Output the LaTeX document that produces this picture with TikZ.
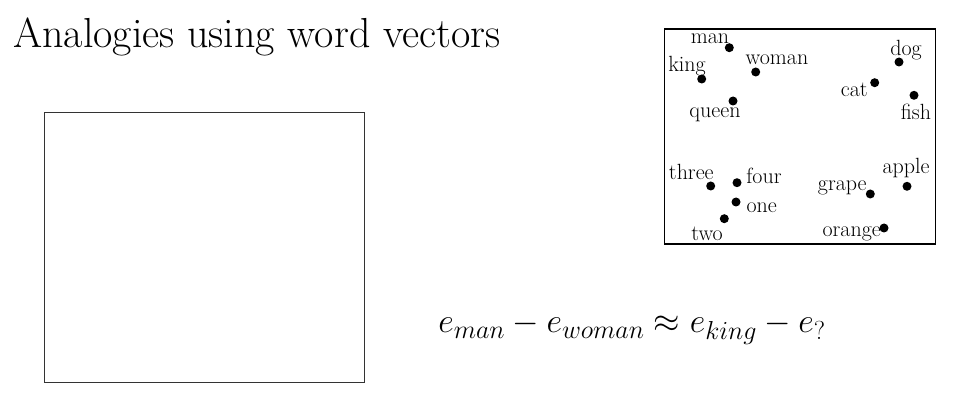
\RequirePackage{fix-cm}
\documentclass[tikz,border=0pt]{standalone}
\usepackage{amsmath}
\DeclareMathSizes{34}{34}{26}{20}
\begin{document}
\begin{tikzpicture}[x=1pt,y=-1pt,
  dot/.style={circle,fill=black,inner sep=0pt,minimum size=9pt},
  lbl/.style={inner sep=0pt,font=\fontsize{22}{24}\selectfont},
  frame/.style={draw=black,line width=1pt}]
\useasboundingbox (0,0) rectangle (961,411);
\node[anchor=base west,inner sep=0pt,font=\fontsize{42}{46}\selectfont] (title) at (13,48) {Analogies using word vectors};
\node[frame,draw=black!80,line width=0.8pt,minimum width=320pt,minimum height=270pt,inner sep=0pt] (blank) at (204,247) {};
\node[frame,line width=1.5pt,minimum width=271pt,minimum height=215pt,inner sep=0pt] (plot) at (800,136.5) {};
% dots
\node[dot] (man) at (729.3,47.7) {};
\node[dot] (king) at (701.7,79) {};
\node[dot] (woman) at (755.7,72) {};
\node[dot] (queen) at (733,101) {};
\node[dot] (dog) at (899,62) {};
\node[dot] (cat) at (874.7,82.7) {};
\node[dot] (fish) at (914,95.3) {};
\node[dot] (three) at (710.7,186) {};
\node[dot] (four) at (737,182.7) {};
\node[dot] (one) at (736,202) {};
\node[dot] (two) at (724.3,218.7) {};
\node[dot] (apple) at (907,186.3) {};
\node[dot] (grape) at (870.3,194) {};
\node[dot] (orange) at (884,228) {};
% labels
\node[lbl] (lman) at (710,39) {man};
\node[lbl] (lking) at (687,66) {king};
\node[lbl] (lwoman) at (777,59.5) {woman};
\node[lbl] (lqueen) at (715,115) {queen};
\node[lbl] (ldog) at (906,50) {dog};
\node[lbl] (lcat) at (854.3,90) {cat};
\node[lbl] (lfish) at (916,111.5) {fish};
\node[lbl] (lthree) at (691.3,172) {three};
\node[lbl] (lfour) at (764,176) {four};
\node[lbl] (lone) at (761.7,208) {one};
\node[lbl] (ltwo) at (707,233.5) {two};
\node[lbl] (lapple) at (906,168) {apple};
\node[lbl] (lgrape) at (842.3,188) {grape};
\node[lbl] (lorange) at (851.7,233.5) {orange};
% equation
\node[inner sep=0pt,anchor=base,font=\fontsize{34}{40}\selectfont] (eq) at (632,333) {$e_{man}-e_{woman}\approx e_{king}-e_{?}$};
\end{tikzpicture}
\end{document}
